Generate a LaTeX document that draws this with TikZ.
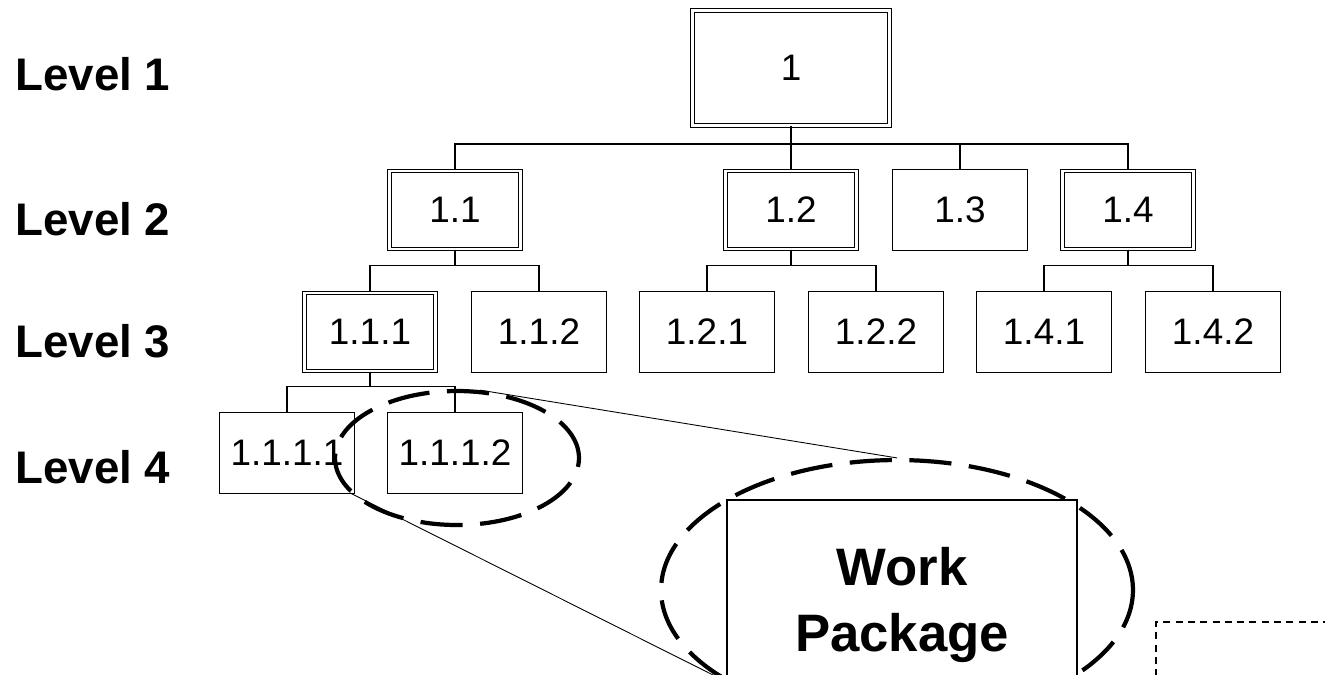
\documentclass[tikz,border=0pt]{standalone}
\usepackage{fontspec}
\setmainfont{Liberation Sans}
\usetikzlibrary{shapes.geometric}
\begin{document}
\begin{tikzpicture}[x=0.02cm,y=-0.02cm]
		\tikzstyle{box}=[rectangle,draw,fill=white,line width=0.8pt,minimum width=2.7cm,minimum height=1.62cm,inner sep=0,font=\fontsize{21}{24}\selectfont]
		\tikzstyle{dbox}=[box,double,line width=0.7pt,double distance=1.3pt,minimum width=2.62cm,minimum height=1.56cm]
		\tikzstyle{edge}=[line width=0.7pt]
		\tikzstyle{lvl}=[anchor=base west,inner sep=0,font=\fontsize{26}{30}\selectfont\bfseries]
		\tikzstyle{zoomring}=[ellipse,draw,line width=2.4pt,dash pattern=on 24pt off 10pt,inner sep=0]
		\useasboundingbox (0,0) rectangle (1325,674);
		\clip (0,0) rectangle (1325,674);
		
		\node [lvl] (lv1) at (15, 90)  {Level 1};
		\node [lvl] (lv2) at (15, 235) {Level 2};
		\node [lvl] (lv3) at (15, 357) {Level 3};
		\node [lvl] (lv4) at (15, 483) {Level 4};
		
		\node [dbox,minimum width=3.94cm,minimum height=2.3cm] (n1) at (791, 68) {1};
		
		\node [dbox] (n11) at ( 455, 210) {1.1};
		\node [dbox] (n12) at ( 791, 210) {1.2};
		\node [box]  (n13) at ( 960, 210) {1.3};
		\node [dbox] (n14) at (1128, 210) {1.4};
		
		\node [dbox] (n111) at ( 370, 332) {1.1.1};
		\node [box]  (n112) at ( 539, 332) {1.1.2};
		\node [box]  (n121) at ( 707, 332) {1.2.1};
		\node [box]  (n122) at ( 876, 332) {1.2.2};
		\node [box]  (n141) at (1044, 332) {1.4.1};
		\node [box]  (n142) at (1213, 332) {1.4.2};
		
		\node [box] (n1111) at (287, 453) {1.1.1.1};
		\node [box] (n1112) at (455, 453) {1.1.1.2};
		
		\foreach \c in {n11,n12,n13,n14}
			\draw[edge] (n1.south) -- ++(0,18) -| (\c.north);
		\foreach \c in {n111,n112}
			\draw[edge] (n11.south) -- ++(0,16) -| (\c.north);
		\foreach \c in {n121,n122}
			\draw[edge] (n12.south) -- ++(0,16) -| (\c.north);
		\foreach \c in {n141,n142}
			\draw[edge] (n14.south) -- ++(0,16) -| (\c.north);
		\foreach \c in {n1111,n1112}
			\draw[edge] (n111.south) -- ++(0,15) -| (\c.north);
		
		\node [zoomring,minimum width=4.88cm,minimum height=2.68cm] (small) at (457, 458) {};
		\node [zoomring,minimum width=9.44cm,minimum height=5.2cm] (big) at (897, 590) {};
		\draw[line width=0.5pt] (small.71) -- (big.north);
		\draw[line width=0.5pt] (small.198) -- (big.207);
		
		\node [rectangle,draw,fill=white,line width=0.8pt,minimum width=7cm,minimum height=4.2cm,align=center,
			font=\fontsize{30}{38}\selectfont\bfseries] (wp) at (902, 605) {Work\\Package};
		
		\node [rectangle,draw,line width=0.8pt,dash pattern=on 4pt off 3pt,minimum width=8cm,minimum height=2cm] (next) at (1356, 672) {};
	\end{tikzpicture}
\end{document}
